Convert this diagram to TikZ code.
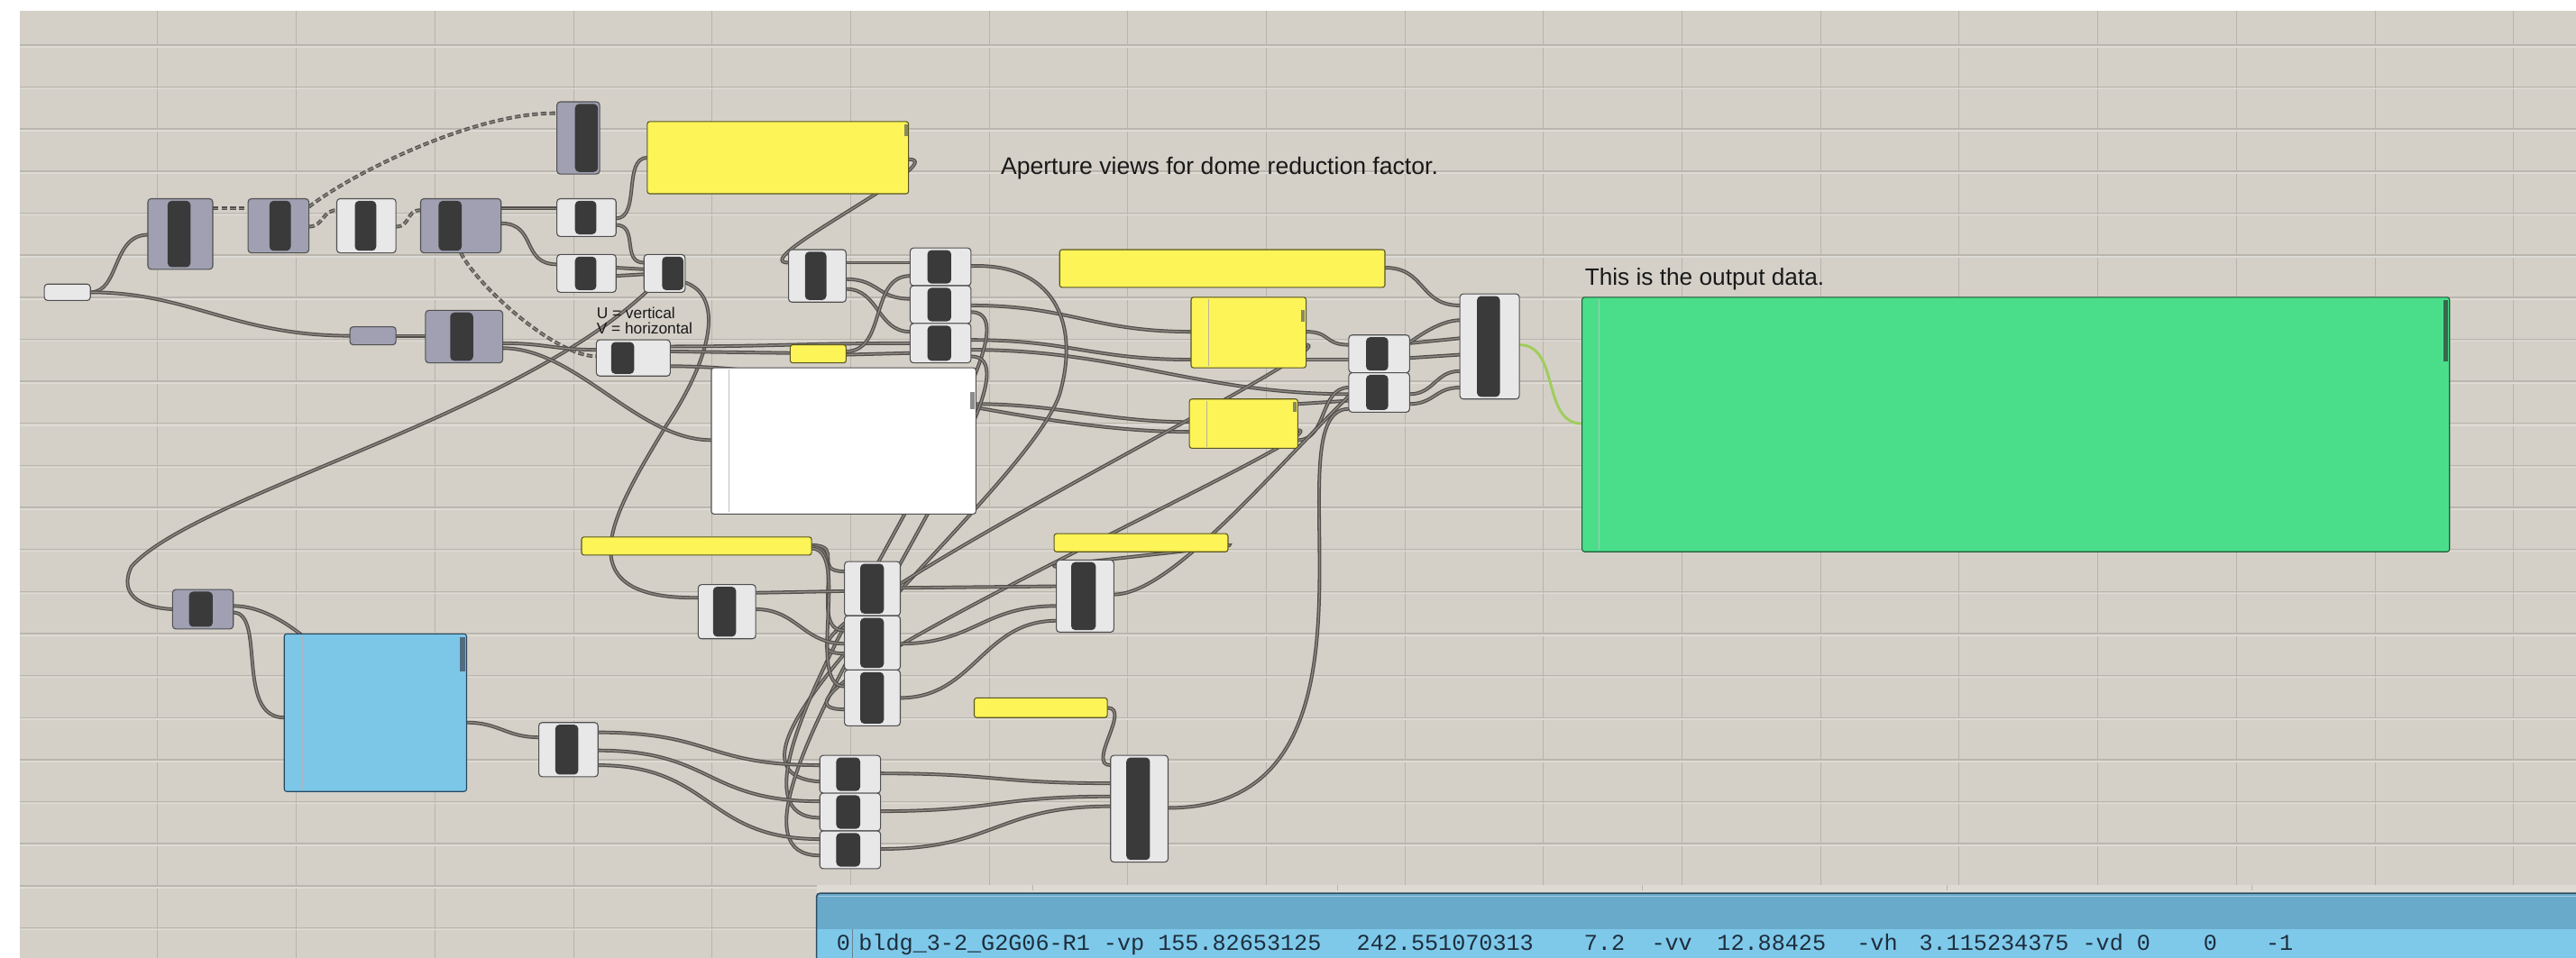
\documentclass[tikz,border=0pt]{standalone}
\usepackage{fontspec}
\setmainfont{Liberation Sans}
\newfontfamily\ghmono{Liberation Mono}
\pgfdeclarelayer{gridlayer}
\pgfdeclarelayer{wirelayer}
\pgfsetlayers{gridlayer,wirelayer,main}
\definecolor{canvasc}{RGB}{212,208,200}
\definecolor{gridv}{RGB}{184,180,172}
\definecolor{gridh}{RGB}{186,182,174}
\definecolor{gridhl}{RGB}{222,219,213}
\definecolor{ghgreyc}{RGB}{160,160,178}
\definecolor{ghwhitec}{RGB}{232,232,232}
\definecolor{ghbarc}{RGB}{58,58,58}
\definecolor{ghedge}{RGB}{80,80,80}
\definecolor{panyel}{RGB}{253,244,88}
\definecolor{panyeledge}{RGB}{90,86,30}
\definecolor{panblue}{RGB}{124,199,232}
\definecolor{panblueedge}{RGB}{40,70,95}
\definecolor{pangreen}{RGB}{74,222,139}
\definecolor{pangreenedge}{RGB}{35,85,55}
\definecolor{bpdark}{RGB}{105,170,203}
\definecolor{bplight}{RGB}{126,201,234}
\definecolor{bpedge}{RGB}{45,75,95}
\definecolor{bptext}{RGB}{30,45,60}
\definecolor{wirec}{RGB}{82,79,75}
\definecolor{wirein}{RGB}{140,137,132}
\definecolor{outwire}{RGB}{160,205,90}
\tikzset{
 ghbase/.style={draw=ghedge, line width=0.6pt, rounded corners=2pt, inner sep=0pt, outer sep=0pt},
 ghwhite/.style={ghbase, fill=ghwhitec},
 ghgrey/.style={ghbase, fill=ghgreyc},
 ghbar/.style={fill=ghbarc, rounded corners=2.5pt},
 ghpanel/.style={line width=0.6pt, rounded corners=1.5pt, inner sep=0pt, outer sep=0pt},
 ghw/.style={draw=wirec, double=wirein, double distance=0.75pt, line width=0.7pt},
 ghwd/.style={ghw, dash pattern=on 3.5pt off 1.8pt},
 lbl/.style={anchor=base west, inner sep=0pt, text=black!90},
 mono/.style={anchor=base west, inner sep=0pt, text=bptext, font=\ghmono\fontsize{13.8}{16}\selectfont},
}
\newcommand\ghc[8]{%
 \node[#8, minimum width={(#4)-(#2)}, minimum height={(#5)-(#3)}] (#1) at ({((#2)+(#4))/2},{((#3)+(#5))/2}) {};
 \fill[ghbar] (#6,{(#3)+1.3}) rectangle (#7,{(#5)-1.3});}
\newcommand\ghp[6]{%
 \node[ghpanel, #6, minimum width={(#4)-(#2)}, minimum height={(#5)-(#3)}] (#1) at ({((#2)+(#4))/2},{((#3)+(#5))/2}) {};}
\begin{document}
\begin{tikzpicture}[x=1pt,y=-1pt]
\useasboundingbox (0,0) rectangle (1568,583.4);
\begin{pgfonlayer}{gridlayer}
\fill[white] (0,0) rectangle (1568,583.4);
\fill[canvasc] (12,6.6) rectangle (1568,583.4);
\foreach \k in {0,...,17} {\draw[gridv, line width=0.5pt] ({96+84.35*\k},6.6) -- ({96+84.35*\k},583.4);}
\foreach \k in {0,...,21} {
  \draw[gridhl, line width=0.9pt] (12,{28.5+25.6*\k}) -- (1568,{28.5+25.6*\k});
  \draw[gridh, line width=0.8pt] (12,{27.4+25.6*\k}) -- (1568,{27.4+25.6*\k});}
\fill[gridhl] (497,539.2) rectangle (1568,544);
\foreach \k in {0,...,4} {\draw[gridv, line width=0.5pt] ({628.5+185.6*\k},539.2) -- ({628.5+185.6*\k},542.5);}
\end{pgfonlayer}

% ---------- panels ----------
\ghp{P1}{394}{74}{553}{118}{fill=panyel, draw=panyeledge}
\ghp{P2}{645}{152}{843}{175}{fill=panyel, draw=panyeledge}
\ghp{P3}{725}{181}{795}{224}{fill=panyel, draw=panyeledge}
\ghp{P4}{481}{210}{515}{221}{fill=panyel, draw=panyeledge}
\ghp{P5}{724}{243}{790}{273}{fill=panyel, draw=panyeledge}
\ghp{P6}{354}{327}{494}{338}{fill=panyel, draw=panyeledge}
\ghp{P7}{641.6}{325}{747.5}{336}{fill=panyel, draw=panyeledge}
\ghp{P8}{593}{425}{674}{437}{fill=panyel, draw=panyeledge}
\ghp{Wp}{433}{224}{594}{313}{fill=white, draw=ghedge}
\ghp{Blue}{173}{386}{284}{482}{fill=panblue, draw=panblueedge}
\ghp{Green}{963}{181}{1491}{336}{fill=pangreen, draw=pangreenedge}
% panel margin lines and grips
\draw[panyeledge!45, line width=0.4pt] (735.5,182) -- (735.5,223);
\draw[panyeledge!45, line width=0.4pt] (734.5,244) -- (734.5,272);
\draw[black!25, line width=0.4pt] (443.5,225) -- (443.5,312);
\draw[panblueedge!40, line width=0.4pt] (184,387) -- (184,481);
\draw[pangreenedge!35, line width=0.4pt] (973.5,182) -- (973.5,335);
\fill[panyeledge!70] (550.5,76) rectangle (552.6,83);
\fill[panyeledge!70] (792,189) rectangle (794.4,196);
\fill[panyeledge!70] (787,245) rectangle (789.4,251);
\fill[black!45] (590.5,239) rectangle (593.2,249);
\fill[panblueedge!80] (280,388) rectangle (283.2,409);
\fill[pangreenedge!90] (1487.5,183) rectangle (1490.2,220);

% ---------- components ----------
\node[ghbase, fill=ghwhitec, minimum width=28, minimum height=10] (sl) at (41,178) {};
\node[ghgrey, minimum width=28, minimum height=11] (I) at (227,204.5) {};
\ghc{A}{90}{121}{129.5}{164}{102}{116}{ghgrey}
\ghc{B}{151}{121}{188}{154}{164}{177}{ghgrey}
\ghc{C}{205}{121}{241}{154}{216}{229}{ghwhite}
\ghc{D}{256}{121}{305}{154}{267}{281}{ghgrey}
\ghc{E}{339}{62}{365}{106}{350}{364}{ghgrey}
\ghc{F}{339}{121}{375}{144}{350}{363}{ghwhite}
\ghc{G}{339}{155}{375}{178}{350}{363}{ghwhite}
\ghc{H}{392}{155}{417}{178}{403}{416}{ghwhite}
\ghc{J}{259}{189}{306}{221}{274}{288}{ghgrey}
\ghc{K}{363}{207}{408}{229}{372}{386}{ghwhite}
\ghc{L}{480}{152}{515}{184}{490}{503}{ghwhite}
\ghc{M1}{554}{151}{591}{174}{564.5}{579}{ghwhite}
\ghc{M2}{554}{174}{591}{197}{564.5}{579}{ghwhite}
\ghc{M3}{554}{197}{591}{221}{564.5}{579}{ghwhite}
\ghc{N1}{821}{204}{858}{227}{831.5}{845}{ghwhite}
\ghc{N2}{821}{227}{858}{251}{831.5}{845}{ghwhite}
\ghc{O}{888.6}{179}{924.8}{243}{899}{913}{ghwhite}
\ghc{Q}{425}{356}{460}{389}{434}{448}{ghwhite}
\ghc{R1}{514}{342}{548}{375}{523.6}{538}{ghwhite}
\ghc{R2}{514}{375}{548}{408}{523.6}{538}{ghwhite}
\ghc{R3}{514}{408}{548}{442}{523.6}{538}{ghwhite}
\ghc{S}{643}{341}{678}{385}{652}{667}{ghwhite}
\ghc{T}{676}{460}{711}{525}{685.6}{700}{ghwhite}
\ghc{U1}{499}{460}{536}{483}{509}{523.6}{ghwhite}
\ghc{U2}{499}{483}{536}{506}{509}{523.6}{ghwhite}
\ghc{U3}{499}{506}{536}{529}{509}{523.6}{ghwhite}
\ghc{V}{328}{440}{364}{473}{338}{352}{ghwhite}
\ghc{Wg}{105}{359}{142}{383}{115}{129.5}{ghgrey}

% ---------- texts ----------
\node[lbl, font=\fontsize{14.6}{17}\selectfont] (t1) at (609,106) {Aperture views for dome reduction factor.};
\node[lbl, font=\fontsize{14.4}{17}\selectfont] (t2) at (964.5,173.5) {This is the output data.};
\node[lbl, font=\fontsize{9.5}{11}\selectfont] (t3) at (363,194) {U = vertical};
\node[lbl, font=\fontsize{9.5}{11}\selectfont] (t4) at (363,203.6) {V = horizontal};

% ---------- bottom panel ----------
\fill[bplight] (497,544) rectangle (1570,590);
\fill[bpdark] (497,544) rectangle (1570,566);
\draw[white!40!bpdark, line width=0.6pt] (498.5,545.6) -- (1570,545.6);
\draw[bpedge!70, line width=0.4pt] (519,566) -- (519,590);
\node[draw=bpedge, line width=0.8pt, rounded corners=2pt, inner sep=0pt, minimum width=1080, minimum height=50] (Bot) at (1037,569) {};
\node[mono] (b0) at (509,579) {0};
\node[mono] (b1) at (522.5,579) {bldg\_3-2\_G2G06-R1 -vp 155.82653125};
\node[mono] (b2) at (825.6,579) {242.551070313};
\node[mono] (b3) at (964,579) {7.2};
\node[mono] (b4) at (1005,579) {-vv};
\node[mono] (b5) at (1045,579) {12.88425};
\node[mono] (b6) at (1130,579) {-vh};
\node[mono] (b7) at (1168,579) {3.115234375 -vd 0};
\node[mono] (b8) at (1341,579) {0};
\node[mono] (b9) at (1379,579) {-1};

% ---------- wires ----------
\begin{pgfonlayer}{wirelayer}
\draw[ghw] (sl.east) .. controls +(18,0) and +(-22,0) .. (A.west |- 0,143);
\draw[ghw] (sl.east) .. controls +(60,0) and +(-70,0) .. (I.west);
\draw[ghwd] (A.east |- 0,127) -- (B.west |- 0,127);
\draw[ghwd] (B.east |- 0,126) .. controls (215,105) and (290,68) .. (E.west |- 0,69);
\draw[ghwd] (B.east |- 0,138) .. controls +(9,0) and +(-9,0) .. (C.west |- 0,128);
\draw[ghwd] (C.east |- 0,138) .. controls +(9,0) and +(-9,0) .. (D.west |- 0,128);
\draw[ghw] (D.east |- 0,127) -- (F.west |- 0,127);
\draw[ghw] (D.east |- 0,136) .. controls +(22,0) and +(-22,0) .. (G.west |- 0,161);
\draw[ghwd] (D.south) .. controls +(10,20) and +(-25,0) .. (K.west |- 0,217);
\draw[ghw] (F.east |- 0,133) .. controls +(15,0) and +(-15,0) .. (P1.west |- 0,96);
\draw[ghw] (F.east |- 0,137) .. controls +(14,0) and +(-14,0) .. (H.west |- 0,160);
\draw[ghw] (G.east |- 0,163) -- (H.west |- 0,164);
\draw[ghw] (G.east |- 0,168) -- (H.west |- 0,167);
\draw[ghw] (P1.east |- 0,97) .. controls +(28,0) and +(-28,0) .. (L.west |- 0,160);
\draw[ghw] (H.center) .. controls (330,250) and (120,300) .. (80,345) .. controls (72,362) and (85,370) .. (Wg.west);
\draw[ghw] (H.east |- 0,172) .. controls (440,180) and (435,215) .. (405,260) .. controls (375,310) and (340,365) .. (Q.west |- 0,364);
\draw[ghw] (I.east) -- (J.west |- I.east);
\draw[ghw] (J.east |- 0,212) .. controls +(45,0) and +(-45,0) .. (Wp.west |- 0,268);
\draw[ghw] (J.east |- 0,209) .. controls +(25,0) and +(-25,0) .. (K.west |- 0,213);
\draw[ghw] (K.east |- 0,214) -- (P4.west |- 0,215);
\draw[ghw] (K.east |- 0,211) .. controls +(60,0) and +(-60,0) .. (M3.west |- 0,209);
\draw[ghw] (K.east |- 0,223) .. controls +(100,0) and +(-100,0) .. (P5.west |- 0,263);
\draw[ghw] (Wp.east |- 0,246) .. controls +(50,0) and +(-50,0) .. (P5.west |- 0,257);
\draw[ghw] (L.east |- 0,160) -- (M1.west |- 0,160);
\draw[ghw] (L.east |- 0,170) .. controls +(20,0) and +(-20,0) .. (M2.west |- 0,182);
\draw[ghw] (L.east |- 0,176) .. controls +(20,0) and +(-20,0) .. (M3.west |- 0,202);
\draw[ghw] (P4.east |- 0,216) -- (M3.west |- 0,215);
\draw[ghw] (P4.east |- 0,214) .. controls +(25,0) and +(-25,0) .. (M1.west |- 0,168);
\draw[ghw] (M2.east |- 0,186) .. controls +(60,0) and +(-60,0) .. (P3.west |- 0,202);
\draw[ghw] (M3.east |- 0,207) .. controls +(60,0) and +(-60,0) .. (P3.west |- 0,219);
\draw[ghw] (M3.east |- 0,213) .. controls +(90,0) and +(-90,0) .. (N2.west |- 0,240);
\draw[ghw] (M1.east |- 0,162) .. controls (640,160) and (658,195) .. (645,240) .. controls (625,300) and (410,470) .. (U1.west |- 0,476);
\draw[ghw] (M2.east |- 0,190) .. controls +(60,0) and +(-90,0) .. (U2.west |- 0,498);
\draw[ghw] (M3.east |- 0,217) .. controls +(60,0) and +(-90,0) .. (U3.west |- 0,521);
\draw[ghw] (P3.east |- 0,210) .. controls +(30,0) and +(-80,0) .. (R2.west |- 0,398);
\draw[ghw] (P5.east |- 0,262) .. controls +(30,0) and +(-80,0) .. (R3.west |- 0,432);
\draw[ghw] (P2.east |- 0,163) .. controls +(25,0) and +(-25,0) .. (O.west |- 0,186);
\draw[ghw] (P3.east |- 0,202) .. controls +(15,0) and +(-15,0) .. (N1.west |- 0,210);
\draw[ghw] (P3.east |- 0,219) -- (N1.west |- 0,219);
\draw[ghw] (P5.east |- 0,246) -- (N2.west |- 0,244);
\draw[ghw] (P5.east |- 0,268) .. controls +(18,0) and +(-18,0) .. (N2.west |- 0,236);
\draw[ghw] (N1.east |- 0,209) -- (O.west |- 0,206);
\draw[ghw] (N1.east |- 0,218) -- (O.west |- 0,216);
\draw[ghw] (N2.east |- 0,240) .. controls +(15,0) and +(-15,0) .. (O.west |- 0,226);
\draw[ghw] (N2.east |- 0,246) .. controls +(15,0) and +(-15,0) .. (O.west |- 0,236);
\draw[ghw] (S.east |- 0,362) .. controls (730,362) and (840,195) .. (O.west |- 0,195);
\draw[ghw] (T.east |- 0,492) .. controls (860,492) and (770,249) .. (N2.west |- 0,249);
\draw[ghw] (P6.east |- 0,332) .. controls +(20,0) and +(-20,0) .. (R1.west |- 0,348);
\draw[ghw] (P6.east |- 0,333) .. controls +(22,0) and +(-22,0) .. (R2.west |- 0,384);
\draw[ghw] (P6.east |- 0,334) .. controls +(24,0) and +(-24,0) .. (R3.west |- 0,418);
\draw[ghw] (Q.east |- 0,361) -- (R1.west |- 0,360);
\draw[ghw] (Q.east |- 0,371) .. controls +(25,0) and +(-25,0) .. (R2.west |- 0,392);
\draw[ghw] (R1.east |- 0,358) -- (S.west |- 0,357);
\draw[ghw] (R2.east |- 0,392) .. controls +(45,0) and +(-45,0) .. (S.west |- 0,369);
\draw[ghw] (R3.east |- 0,425) .. controls +(45,0) and +(-45,0) .. (S.west |- 0,378);
\draw[ghw] (P7.east |- 0,332) .. controls +(12,0) and +(-14,0) .. (S.west |- 0,345);
\draw[ghw] (P8.east |- 0,431) .. controls +(15,0) and +(-15,0) .. (T.west |- 0,466);
\draw[ghw] (U1.east |- 0,471) .. controls +(70,0) and +(-70,0) .. (T.west |- 0,477);
\draw[ghw] (U2.east |- 0,494) .. controls +(70,0) and +(-70,0) .. (T.west |- 0,485);
\draw[ghw] (U3.east |- 0,517) .. controls +(70,0) and +(-70,0) .. (T.west |- 0,491);
\draw[ghw] (V.east |- 0,446) .. controls +(70,0) and +(-70,0) .. (U1.west |- 0,466);
\draw[ghw] (V.east |- 0,457) .. controls +(70,0) and +(-70,0) .. (U2.west |- 0,488);
\draw[ghw] (V.east |- 0,466) .. controls +(70,0) and +(-70,0) .. (U3.west |- 0,511);
\draw[ghw] (Blue.east |- 0,440) .. controls +(20,0) and +(-20,0) .. (V.west |- 0,449);
\draw[ghw] (Wg.east |- 0,373) .. controls +(20,0) and +(-30,0) .. (Blue.west |- 0,437);
\draw[ghw] (Wg.east |- 0,369) .. controls +(33,0) and +(-20,-25) .. (Blue.center);
\draw[outwire, line width=1.6pt] (O.east |- 0,210) .. controls +(25,0) and +(-25,0) .. (Green.west |- 0,258);
\end{pgfonlayer}
\end{tikzpicture}
\end{document}
